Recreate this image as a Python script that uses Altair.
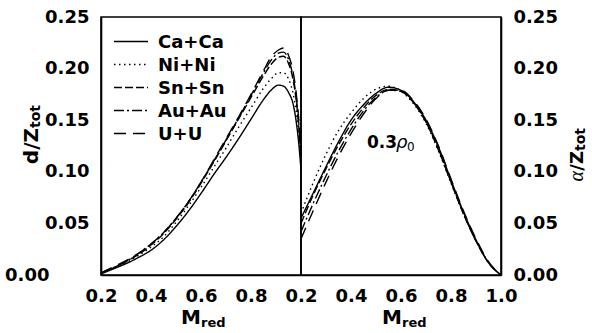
import altair as alt
import pandas as pd

series = ["Ca+Ca", "Ni+Ni", "Sn+Sn", "Au+Au", "U+U"]
dash_styles = [[1, 0], [1.5, 3.5], [8, 3], [10, 3, 2, 3], [12, 7]]

# left panel: d/Z_tot
m_left = [0.2, 0.25, 0.3, 0.35, 0.4, 0.45, 0.5, 0.55, 0.6, 0.65, 0.7, 0.75, 0.8,
          0.85, 0.88, 0.91, 0.93, 0.95, 0.97, 0.98, 0.99, 1.0]
d_ca = [0.001, 0.006, 0.011, 0.017, 0.024, 0.034, 0.047, 0.062, 0.079, 0.097, 0.114, 0.132, 0.151,
        0.170, 0.179, 0.184, 0.183, 0.177, 0.164, 0.150, 0.130, 0.102]
d_ni = [0.002, 0.007, 0.012, 0.019, 0.027, 0.037, 0.051, 0.067, 0.085, 0.104, 0.123, 0.143, 0.162,
        0.181, 0.190, 0.196, 0.196, 0.190, 0.174, 0.160, 0.138, 0.108]
d_sn = [0.002, 0.007, 0.013, 0.020, 0.029, 0.040, 0.054, 0.070, 0.089, 0.109, 0.130, 0.151, 0.172,
        0.193, 0.204, 0.211, 0.212, 0.205, 0.187, 0.171, 0.147, 0.115]
d_au = [0.002, 0.007, 0.013, 0.021, 0.030, 0.041, 0.055, 0.071, 0.090, 0.110, 0.131, 0.152, 0.174,
        0.196, 0.208, 0.215, 0.216, 0.209, 0.190, 0.174, 0.150, 0.120]
d_u = [0.002, 0.008, 0.014, 0.021, 0.030, 0.041, 0.055, 0.071, 0.090, 0.111, 0.132, 0.153, 0.175,
       0.198, 0.211, 0.218, 0.220, 0.213, 0.195, 0.178, 0.154, 0.125]

# right panel: alpha/Z_tot
m_right = [0.2, 0.25, 0.3, 0.35, 0.4, 0.45, 0.5, 0.55, 0.6, 0.65, 0.7, 0.75, 0.8, 0.85, 0.9, 0.95, 1.0]
a_ca = [0.055, 0.080, 0.105, 0.129, 0.150, 0.165, 0.176, 0.182, 0.179, 0.168, 0.150, 0.124, 0.092, 0.061, 0.034, 0.012, 0.0]
a_ni = [0.060, 0.090, 0.117, 0.140, 0.157, 0.171, 0.180, 0.183, 0.178, 0.166, 0.147, 0.120, 0.089, 0.059, 0.033, 0.012, 0.0]
a_sn = [0.050, 0.078, 0.103, 0.126, 0.146, 0.162, 0.174, 0.180, 0.178, 0.167, 0.148, 0.121, 0.090, 0.059, 0.033, 0.012, 0.0]
a_au = [0.042, 0.070, 0.096, 0.120, 0.141, 0.159, 0.172, 0.179, 0.178, 0.167, 0.149, 0.122, 0.090, 0.060, 0.033, 0.012, 0.0]
a_u = [0.035, 0.063, 0.090, 0.115, 0.137, 0.156, 0.171, 0.179, 0.179, 0.169, 0.151, 0.125, 0.093, 0.062, 0.035, 0.013, 0.0]

y_labels = [0.0, 0.05, 0.10, 0.15, 0.20, 0.25]
x_labels_left = [0.2, 0.4, 0.6, 0.8]
x_labels_right = [0.2, 0.4, 0.6, 0.8, 1.0]

W, H = 200, 258
FONT = "DejaVu Sans"
X0, X1, Y0, Y1 = 0.2, 1.0, 0.0, 0.25


def long_df(m, cols):
    rows = []
    for name, vals in zip(series, cols):
        for mm, vv in zip(m, vals):
            rows.append({"M": mm, "v": vv, "series": name})
    return pd.DataFrame(rows)


df_left = long_df(m_left, [d_ca, d_ni, d_sn, d_au, d_u])
df_right = long_df(m_right, [a_ca, a_ni, a_sn, a_au, a_u])

xscale = alt.Scale(domain=[X0, X1], nice=False, zero=False)
yscale = alt.Scale(domain=[Y0, Y1], nice=False, zero=False)
dash_scale = alt.Scale(domain=series, range=dash_styles)

axis_common = dict(labelFont=FONT, labelFontWeight="bold", labelFontSize=18, labelColor="black",
                   domain=True, domainColor="black", domainWidth=1.6,
                   ticks=False, grid=False, title=None, labelFlush=False, labelOverlap=False)


def make_axes(xvals, yorient):
    if yorient == "left":
        ypad = {"condition": {"test": "datum.value === 0", "value": 52}, "value": 12}
    else:
        ypad = 12
    xa = alt.Axis(values=xvals, format=".1f", labelPadding=12, **axis_common)
    ya = alt.Axis(values=y_labels, format=".2f", orient=yorient, labelPadding=ypad, **axis_common)
    return xa, ya


def lines_layer(df, xa, ya):
    return alt.Chart(df).mark_line(color="black", strokeWidth=1.4, interpolate="monotone").encode(
        x=alt.X("M:Q", scale=xscale, axis=xa),
        y=alt.Y("v:Q", scale=yscale, axis=ya),
        strokeDash=alt.StrokeDash("series:N", scale=dash_scale, legend=None),
        order="M:Q",
    )


def txt(t, x, y, size, **kw):
    return alt.Chart(pd.DataFrame({"t": [t]})).mark_text(
        font=kw.pop("font", FONT), fontSize=size, fontWeight=kw.pop("fontWeight", "bold"),
        color="black", **kw).encode(x=alt.value(x), y=alt.value(y), text="t:N")


# ---- left panel ----
xa_l, ya_l = make_axes(x_labels_left, "left")
leg = pd.DataFrame({"series": series})
leg_y = alt.Y("series:N", scale=alt.Scale(type="point", domain=series, range=[24.5, 116.5], padding=0), axis=None)
leg_x_start = X0 + (X1 - X0) * 13 / W
leg_x_end = X0 + (X1 - X0) * 47 / W
leg_x_text = X0 + (X1 - X0) * 57 / W
leg_rules = alt.Chart(leg).transform_calculate(M=f"{leg_x_start}", M2=f"{leg_x_end}").mark_rule(
    color="black", strokeWidth=1.4).encode(
    x=alt.X("M:Q", scale=xscale, axis=xa_l), x2="M2:Q", y=leg_y,
    strokeDash=alt.StrokeDash("series:N", scale=dash_scale, legend=None))
leg_text = alt.Chart(leg).transform_calculate(M=f"{leg_x_text}").mark_text(
    font=FONT, fontWeight="bold", fontSize=18, align="left", baseline="middle", color="black", dy=1).encode(
    x=alt.X("M:Q", scale=xscale, axis=xa_l), y=leg_y, text="series:N")

left_main = alt.layer(lines_layer(df_left, xa_l, ya_l),
                      txt("d/Z", -63, 111, 20, angle=270, align="right", baseline="alphabetic"),
                      txt("tot", -61, 111, 14, angle=270, align="left", baseline="alphabetic"),
                      txt("M", W / 2, H + 49, 20, align="right", baseline="alphabetic"),
                      txt("red", W / 2, H + 52, 13, align="left", baseline="alphabetic"))
left_chart = alt.layer(left_main, alt.layer(leg_rules, leg_text)).resolve_scale(y="independent").properties(
    width=W, height=H)

# ---- right panel ----
xa_r, ya_r = make_axes(x_labels_right, "right")
ann = pd.DataFrame({"M": [0.464], "v": [0.123]})
ax_r = alt.X("M:Q", scale=xscale, axis=xa_r)
ay_r = alt.Y("v:Q", scale=yscale, axis=ya_r)
right_chart = alt.layer(
    lines_layer(df_right, xa_r, ya_r),
    alt.Chart(ann).mark_text(text="0.3", font=FONT, fontWeight="bold", fontSize=17, align="left",
                             baseline="alphabetic", color="black").encode(x=ax_r, y=ay_r),
    alt.Chart(ann).mark_text(text="ρ", font=FONT, fontStyle="italic", fontSize=18, align="left",
                             baseline="alphabetic", dx=29, color="black").encode(x=ax_r, y=ay_r),
    alt.Chart(ann).mark_text(text="0", font=FONT, fontSize=12, align="left",
                             baseline="alphabetic", dx=40, dy=3, color="black").encode(x=ax_r, y=ay_r),
    txt("/Z", W + 82, 134, 18, angle=270, align="right", baseline="alphabetic"),
    txt("α", W + 82, 154, 20, angle=270, align="right", baseline="alphabetic",
        font="Liberation Serif", fontWeight="normal", fontStyle="italic"),
    txt("tot", W + 84, 134, 14, angle=270, align="left", baseline="alphabetic"),
    txt("M", W / 2 + 1, H + 49, 20, align="right", baseline="alphabetic"),
    txt("red", W / 2 + 1, H + 52, 13, align="left", baseline="alphabetic"),
).properties(width=W, height=H)

chart = alt.hconcat(left_chart, right_chart, spacing=0, bounds="flush").properties(
    padding={"left": 3, "top": 7, "right": 0, "bottom": 0}, background="white"
).configure_view(stroke="black", strokeWidth=1.6)

chart.save("out.html", embed_options={"renderer": "svg", "actions": False})
